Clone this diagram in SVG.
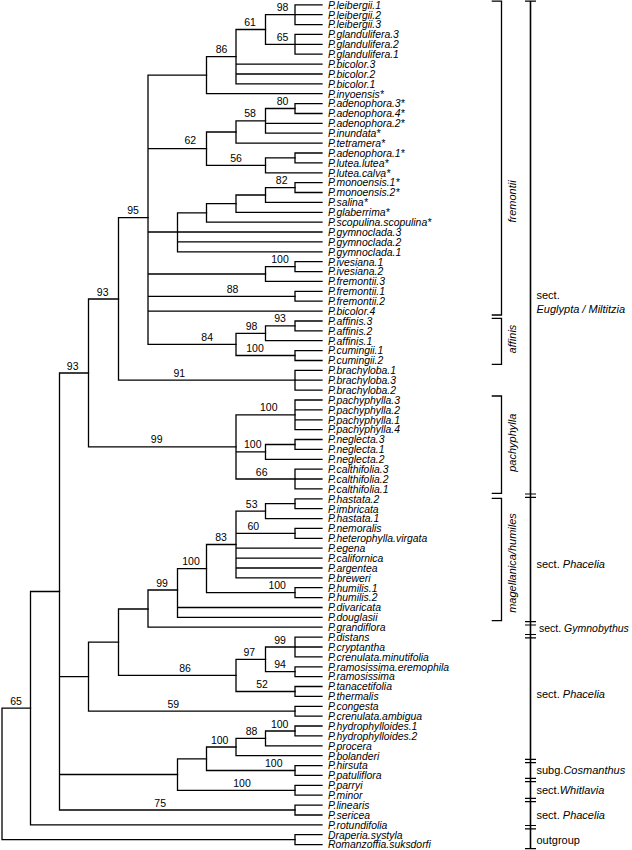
<svg xmlns="http://www.w3.org/2000/svg" width="632" height="850" viewBox="0 0 632 850">
<style>
.br{stroke:#000;stroke-width:1.3;fill:none;stroke-linecap:square}
.bk{stroke:#000;stroke-width:1.3;fill:none}
.bar{stroke:#000;stroke-width:1.6;fill:none}
.tk{stroke:#000;stroke-width:1.2;fill:none}
.lf{font-family:"Liberation Sans",Arial,sans-serif;font-size:10.4px;font-style:italic;fill:#000}
.bs{font-family:"Liberation Sans",Arial,sans-serif;font-size:10.5px;fill:#000;text-anchor:middle}
.cl{font-family:"Liberation Sans",Arial,sans-serif;font-size:11px;font-style:italic;fill:#000;text-anchor:middle}
.sc{font-family:"Liberation Sans",Arial,sans-serif;font-size:11px;fill:#000}
.it{font-style:italic}
</style>
<rect width="632" height="850" fill="#fff"/>
<g id="connectors">
<path class="br" d="M295 4.8V24.6M295 4.8H322M295 14.7H322M295 24.6H322"/>
<path class="br" d="M295 34.4V54.2M295 34.4H322M295 44.3H322M295 54.2H322"/>
<path class="br" d="M265.5 14.7V44.3M265.5 14.7H295M265.5 44.3H295"/>
<path class="br" d="M236 29.5V83.8M236 29.5H265.5M236 64.1H322M236 74H322M236 83.8H322"/>
<path class="br" d="M206.5 56.7V93.7M206.5 56.7H236M206.5 93.7H322"/>
<path class="br" d="M295 103.6V113.5M295 103.6H322M295 113.5H322"/>
<path class="br" d="M265.5 108.5V133.2M265.5 108.5H295M265.5 123.4H322M265.5 133.2H322"/>
<path class="br" d="M236 120.9V143.1M236 120.9H265.5M236 143.1H322"/>
<path class="br" d="M295 153V162.9M295 153H322M295 162.9H322"/>
<path class="br" d="M265.5 157.9V172.8M265.5 157.9H295M265.5 172.8H322"/>
<path class="br" d="M206.5 132V165.4M206.5 132H236M206.5 165.4H265.5"/>
<path class="br" d="M295 182.6V192.5M295 182.6H322M295 192.5H322"/>
<path class="br" d="M265.5 187.6V202.4M265.5 187.6H295M265.5 202.4H322"/>
<path class="br" d="M236 195V212.3M236 195H265.5M236 212.3H322"/>
<path class="br" d="M206.5 203.6V222.2M206.5 203.6H236M206.5 222.2H322"/>
<path class="br" d="M177.5 212.9V251.8M177.5 212.9H206.5M177.5 232H322M177.5 241.9H322M177.5 251.8H322"/>
<path class="br" d="M295 261.7V271.6M295 261.7H322M295 271.6H322"/>
<path class="br" d="M265.5 266.6V281.4M265.5 266.6H295M265.5 281.4H322"/>
<path class="br" d="M295 291.3V301.2M295 291.3H322M295 301.2H322"/>
<path class="br" d="M295 321V330.8M295 321H322M295 330.8H322"/>
<path class="br" d="M265.5 325.9V340.7M265.5 325.9H295M265.5 340.7H322"/>
<path class="br" d="M295 350.6V360.5M295 350.6H322M295 360.5H322"/>
<path class="br" d="M236 333.3V355.5M236 333.3H265.5M236 355.5H295"/>
<path class="br" d="M148 75.2V344.4M148 75.2H206.5M148 148.7H206.5M148 232H177.5M148 274H265.5M148 296.3H295M148 311.1H322M148 344.4H236"/>
<path class="br" d="M295 370.4V390.1M295 370.4H322M295 380.2H322M295 390.1H322"/>
<path class="br" d="M118.5 217.7V380.2M118.5 217.7H148M118.5 380.2H295"/>
<path class="br" d="M295 400V429.6M295 400H322M295 409.9H322M295 419.8H322M295 429.6H322"/>
<path class="br" d="M295 439.5V449.4M295 439.5H322M295 449.4H322"/>
<path class="br" d="M265.5 444.5V459.3M265.5 444.5H295M265.5 459.3H322"/>
<path class="br" d="M295 469.2V488.9M295 469.2H322M295 479H322M295 488.9H322"/>
<path class="br" d="M236 414.8V479M236 414.8H295M236 451.9H265.5M236 479H295"/>
<path class="br" d="M88.5 299V446.9M88.5 299H118.5M88.5 446.9H236"/>
<path class="br" d="M295 498.8V508.7M295 498.8H322M295 508.7H322"/>
<path class="br" d="M265.5 503.7V518.6M265.5 503.7H295M265.5 518.6H322"/>
<path class="br" d="M295 528.4V538.3M295 528.4H322M295 538.3H322"/>
<path class="br" d="M236 511.2V577.8M236 511.2H265.5M236 533.4H295M236 548.2H322M236 558.1H322M236 568H322M236 577.8H322"/>
<path class="br" d="M295 587.7V597.6M295 587.7H322M295 597.6H322"/>
<path class="br" d="M206.5 544.5V592.7M206.5 544.5H236M206.5 592.7H295"/>
<path class="br" d="M177.5 568.6V617.4M177.5 568.6H206.5M177.5 607.5H322M177.5 617.4H322"/>
<path class="br" d="M148 590V627.2M148 590H177.5M148 627.2H322"/>
<path class="br" d="M295 637.1V656.9M295 637.1H322M295 647H322M295 656.9H322"/>
<path class="br" d="M295 666.8V676.6M295 666.8H322M295 676.6H322"/>
<path class="br" d="M265.5 647V671.7M265.5 647H295M265.5 671.7H295"/>
<path class="br" d="M295 686.5V696.4M295 686.5H322M295 696.4H322"/>
<path class="br" d="M236 659.4V691.5M236 659.4H265.5M236 691.5H295"/>
<path class="br" d="M118.5 609V675.4M118.5 609H148M118.5 675.4H236"/>
<path class="br" d="M295 706.3V716.2M295 706.3H322M295 716.2H322"/>
<path class="br" d="M88.5 642.2V711.2M88.5 642.2H118.5M88.5 711.2H295"/>
<path class="br" d="M295 726V735.9M295 726H322M295 735.9H322"/>
<path class="br" d="M265.5 731V745.8M265.5 731H295M265.5 745.8H322"/>
<path class="br" d="M236 738.4V755.7M236 738.4H265.5M236 755.7H322"/>
<path class="br" d="M295 765.6V775.4M295 765.6H322M295 775.4H322"/>
<path class="br" d="M206.5 747V770.5M206.5 747H236M206.5 770.5H295"/>
<path class="br" d="M295 785.3V795.2M295 785.3H322M295 795.2H322"/>
<path class="br" d="M177.5 758.8V790.3M177.5 758.8H206.5M177.5 790.3H295"/>
<path class="br" d="M295 805.1V815M295 805.1H322M295 815H322"/>
<path class="br" d="M59.5 373V810M59.5 373H88.5M59.5 676.7H88.5M59.5 774.5H177.5M59.5 810H295"/>
<path class="br" d="M30.5 591.5V824.8M30.5 591.5H59.5M30.5 824.8H322"/>
<path class="br" d="M295 834.7V844.6M295 834.7H322M295 844.6H322"/>
<path class="br" d="M2 708.2V839.7M2 708.2H30.5M2 839.7H295"/>
</g>
<g id="support">
<text class="bs" x="282.5" y="11">98</text>
<text class="bs" x="282.5" y="40.8">65</text>
<text class="bs" x="250" y="26">61</text>
<text class="bs" x="221.5" y="53.2">86</text>
<text class="bs" x="282.5" y="105">80</text>
<text class="bs" x="250" y="117.4">58</text>
<text class="bs" x="190.3" y="144">62</text>
<text class="bs" x="236" y="161.9">56</text>
<text class="bs" x="281.7" y="184.1">82</text>
<text class="bs" x="133" y="214.2">95</text>
<text class="bs" x="280" y="263.1">100</text>
<text class="bs" x="232.5" y="292.8">88</text>
<text class="bs" x="102.7" y="295.5">93</text>
<text class="bs" x="280" y="322.4">93</text>
<text class="bs" x="251.5" y="329.8">98</text>
<text class="bs" x="207.2" y="340.9">84</text>
<text class="bs" x="255" y="352">100</text>
<text class="bs" x="179.3" y="376.7">91</text>
<text class="bs" x="72.7" y="369.5">93</text>
<text class="bs" x="268.8" y="411.3">100</text>
<text class="bs" x="156.7" y="443.4">99</text>
<text class="bs" x="252.8" y="448.4">100</text>
<text class="bs" x="261.7" y="475.5">66</text>
<text class="bs" x="251.7" y="507.7">53</text>
<text class="bs" x="253.3" y="529.9">60</text>
<text class="bs" x="221" y="541">83</text>
<text class="bs" x="191" y="565.1">100</text>
<text class="bs" x="277.2" y="589.2">100</text>
<text class="bs" x="162" y="586.5">99</text>
<text class="bs" x="280" y="643.5">99</text>
<text class="bs" x="249.3" y="655.9">97</text>
<text class="bs" x="280" y="668.2">94</text>
<text class="bs" x="185" y="671.9">86</text>
<text class="bs" x="262" y="688">52</text>
<text class="bs" x="173.3" y="707.7">59</text>
<text class="bs" x="279.7" y="727.5">100</text>
<text class="bs" x="251.5" y="734.9">88</text>
<text class="bs" x="219.7" y="743.5">100</text>
<text class="bs" x="273.8" y="767">100</text>
<text class="bs" x="242" y="786.8">100</text>
<text class="bs" x="160.2" y="806.5">75</text>
<text class="bs" x="16" y="704.7">65</text>
</g>
<g id="leaves">
<g id="leaf-1"><text class="lf" x="328" y="8.6">P.leibergii.1</text></g>
<g id="leaf-2"><text class="lf" x="328" y="18.5">P.leibergii.2</text></g>
<g id="leaf-3"><text class="lf" x="328" y="28.4">P.leibergii.3</text></g>
<g id="leaf-4"><text class="lf" x="328" y="38.2">P.glandulifera.3</text></g>
<g id="leaf-5"><text class="lf" x="328" y="48.1">P.glandulifera.2</text></g>
<g id="leaf-6"><text class="lf" x="328" y="58">P.glandulifera.1</text></g>
<g id="leaf-7"><text class="lf" x="328" y="67.9">P.bicolor.3</text></g>
<g id="leaf-8"><text class="lf" x="328" y="77.8">P.bicolor.2</text></g>
<g id="leaf-9"><text class="lf" x="328" y="87.6">P.bicolor.1</text></g>
<g id="leaf-10"><text class="lf" x="328" y="97.5">P.inyoensis*</text></g>
<g id="leaf-11"><text class="lf" x="328" y="107.4">P.adenophora.3*</text></g>
<g id="leaf-12"><text class="lf" x="328" y="117.3">P.adenophora.4*</text></g>
<g id="leaf-13"><text class="lf" x="328" y="127.2">P.adenophora.2*</text></g>
<g id="leaf-14"><text class="lf" x="328" y="137">P.inundata*</text></g>
<g id="leaf-15"><text class="lf" x="328" y="146.9">P.tetramera*</text></g>
<g id="leaf-16"><text class="lf" x="328" y="156.8">P.adenophora.1*</text></g>
<g id="leaf-17"><text class="lf" x="328" y="166.7">P.lutea.lutea*</text></g>
<g id="leaf-18"><text class="lf" x="328" y="176.6">P.lutea.calva*</text></g>
<g id="leaf-19"><text class="lf" x="328" y="186.4">P.monoensis.1*</text></g>
<g id="leaf-20"><text class="lf" x="328" y="196.3">P.monoensis.2*</text></g>
<g id="leaf-21"><text class="lf" x="328" y="206.2">P.salina*</text></g>
<g id="leaf-22"><text class="lf" x="328" y="216.1">P.glaberrima*</text></g>
<g id="leaf-23"><text class="lf" x="328" y="226">P.scopulina.scopulina*</text></g>
<g id="leaf-24"><text class="lf" x="328" y="235.8">P.gymnoclada.3</text></g>
<g id="leaf-25"><text class="lf" x="328" y="245.7">P.gymnoclada.2</text></g>
<g id="leaf-26"><text class="lf" x="328" y="255.6">P.gymnoclada.1</text></g>
<g id="leaf-27"><text class="lf" x="328" y="265.5">P.ivesiana.1</text></g>
<g id="leaf-28"><text class="lf" x="328" y="275.4">P.ivesiana.2</text></g>
<g id="leaf-29"><text class="lf" x="328" y="285.2">P.fremontii.3</text></g>
<g id="leaf-30"><text class="lf" x="328" y="295.1">P.fremontii.1</text></g>
<g id="leaf-31"><text class="lf" x="328" y="305">P.fremontii.2</text></g>
<g id="leaf-32"><text class="lf" x="328" y="314.9">P.bicolor.4</text></g>
<g id="leaf-33"><text class="lf" x="328" y="324.8">P.affinis.3</text></g>
<g id="leaf-34"><text class="lf" x="328" y="334.6">P.affinis.2</text></g>
<g id="leaf-35"><text class="lf" x="328" y="344.5">P.affinis.1</text></g>
<g id="leaf-36"><text class="lf" x="328" y="354.4">P.cumingii.1</text></g>
<g id="leaf-37"><text class="lf" x="328" y="364.3">P.cumingii.2</text></g>
<g id="leaf-38"><text class="lf" x="328" y="374.2">P.brachyloba.1</text></g>
<g id="leaf-39"><text class="lf" x="328" y="384">P.brachyloba.3</text></g>
<g id="leaf-40"><text class="lf" x="328" y="393.9">P.brachyloba.2</text></g>
<g id="leaf-41"><text class="lf" x="328" y="403.8">P.pachyphylla.3</text></g>
<g id="leaf-42"><text class="lf" x="328" y="413.7">P.pachyphylla.2</text></g>
<g id="leaf-43"><text class="lf" x="328" y="423.6">P.pachyphylla.1</text></g>
<g id="leaf-44"><text class="lf" x="328" y="433.4">P.pachyphylla.4</text></g>
<g id="leaf-45"><text class="lf" x="328" y="443.3">P.neglecta.3</text></g>
<g id="leaf-46"><text class="lf" x="328" y="453.2">P.neglecta.1</text></g>
<g id="leaf-47"><text class="lf" x="328" y="463.1">P.neglecta.2</text></g>
<g id="leaf-48"><text class="lf" x="328" y="473">P.calthifolia.3</text></g>
<g id="leaf-49"><text class="lf" x="328" y="482.8">P.calthifolia.2</text></g>
<g id="leaf-50"><text class="lf" x="328" y="492.7">P.calthifolia.1</text></g>
<g id="leaf-51"><text class="lf" x="328" y="502.6">P.hastata.2</text></g>
<g id="leaf-52"><text class="lf" x="328" y="512.5">P.imbricata</text></g>
<g id="leaf-53"><text class="lf" x="328" y="522.4">P.hastata.1</text></g>
<g id="leaf-54"><text class="lf" x="328" y="532.2">P.nemoralis</text></g>
<g id="leaf-55"><text class="lf" x="328" y="542.1">P.heterophylla.virgata</text></g>
<g id="leaf-56"><text class="lf" x="328" y="552">P.egena</text></g>
<g id="leaf-57"><text class="lf" x="328" y="561.9">P.californica</text></g>
<g id="leaf-58"><text class="lf" x="328" y="571.8">P.argentea</text></g>
<g id="leaf-59"><text class="lf" x="328" y="581.6">P.breweri</text></g>
<g id="leaf-60"><text class="lf" x="328" y="591.5">P.humilis.1</text></g>
<g id="leaf-61"><text class="lf" x="328" y="601.4">P.humilis.2</text></g>
<g id="leaf-62"><text class="lf" x="328" y="611.3">P.divaricata</text></g>
<g id="leaf-63"><text class="lf" x="328" y="621.2">P.douglasii</text></g>
<g id="leaf-64"><text class="lf" x="328" y="631">P.grandiflora</text></g>
<g id="leaf-65"><text class="lf" x="328" y="640.9">P.distans</text></g>
<g id="leaf-66"><text class="lf" x="328" y="650.8">P.cryptantha</text></g>
<g id="leaf-67"><text class="lf" x="328" y="660.7">P.crenulata.minutifolia</text></g>
<g id="leaf-68"><text class="lf" x="328" y="670.6">P.ramosissima.eremophila</text></g>
<g id="leaf-69"><text class="lf" x="328" y="680.4">P.ramosissima</text></g>
<g id="leaf-70"><text class="lf" x="328" y="690.3">P.tanacetifolia</text></g>
<g id="leaf-71"><text class="lf" x="328" y="700.2">P.thermalis</text></g>
<g id="leaf-72"><text class="lf" x="328" y="710.1">P.congesta</text></g>
<g id="leaf-73"><text class="lf" x="328" y="720">P.crenulata.ambigua</text></g>
<g id="leaf-74"><text class="lf" x="328" y="729.8">P.hydrophylloides.1</text></g>
<g id="leaf-75"><text class="lf" x="328" y="739.7">P.hydrophylloides.2</text></g>
<g id="leaf-76"><text class="lf" x="328" y="749.6">P.procera</text></g>
<g id="leaf-77"><text class="lf" x="328" y="759.5">P.bolanderi</text></g>
<g id="leaf-78"><text class="lf" x="328" y="769.4">P.hirsuta</text></g>
<g id="leaf-79"><text class="lf" x="328" y="779.2">P.patuliflora</text></g>
<g id="leaf-80"><text class="lf" x="328" y="789.1">P.parryi</text></g>
<g id="leaf-81"><text class="lf" x="328" y="799">P.minor</text></g>
<g id="leaf-82"><text class="lf" x="328" y="808.9">P.linearis</text></g>
<g id="leaf-83"><text class="lf" x="328" y="818.8">P.sericea</text></g>
<g id="leaf-84"><text class="lf" x="328" y="828.6">P.rotundifolia</text></g>
<g id="leaf-85"><text class="lf" x="328" y="838.5">Draperia.systyla</text></g>
<g id="leaf-86"><text class="lf" x="328" y="848.4">Romanzoffia.suksdorfi</text></g>
</g>
<g id="clade-brackets">
<g id="br-fremontii"><path class="bk" d="M491.7 1.2H501.5V315H491.7"/><text class="cl" transform="translate(515.5,201.4) rotate(-90)">fremontii</text></g>
<g id="br-affinis"><path class="bk" d="M491.7 318.3H501.5V364.3H491.7"/><text class="cl" transform="translate(515.5,339) rotate(-90)">affinis</text></g>
<g id="br-pachyphylla"><path class="bk" d="M491.7 396H501.5V493.3H491.7"/><text class="cl" transform="translate(515.5,442.7) rotate(-90)">pachyphylla</text></g>
<g id="br-magellanica"><path class="bk" d="M491.7 498.3H501.5V620.7H491.7"/><text class="cl" transform="translate(515.5,563) rotate(-90)">magellanica/humiles</text></g>
</g>
<g id="sections">
<path class="bar" d="M530.5 1V849"/>
<path class="tk" d="M525 1.2H536M525 494H536M525 497.3H536M525 621.7H536M525 625H536M525 634.5H536M525 637.8H536M525 759.3H536M525 762.7H536M525 778.3H536M525 781.7H536M525 798.3H536M525 801.7H536M525 825.5H536M525 828.8H536M525 848.6H536"/>
<g id="sec-euglypta"><text class="sc" x="536.5" y="299">sect.</text><text class="sc it" x="536.5" y="313.2">Euglypta / Miltitzia</text></g>
<g id="sec-phacelia-1"><text class="sc" x="536.5" y="568">sect. <tspan class="it">Phacelia</tspan></text></g>
<g id="sec-gymnobythus"><text class="sc" x="539" y="632" style="font-size:10.5px">sect. <tspan class="it">Gymnobythus</tspan></text></g>
<g id="sec-phacelia-2"><text class="sc" x="536.5" y="698.3">sect. <tspan class="it">Phacelia</tspan></text></g>
<g id="sec-cosmanthus"><text class="sc" x="536.5" y="774.3">subg.<tspan class="it">Cosmanthus</tspan></text></g>
<g id="sec-whitlavia"><text class="sc" x="536.5" y="794">sect.<tspan class="it">Whitlavia</tspan></text></g>
<g id="sec-phacelia-3"><text class="sc" x="536.5" y="819.3">sect. <tspan class="it">Phacelia</tspan></text></g>
<g id="sec-outgroup"><text class="sc" x="536.5" y="844">outgroup</text></g>
</g>
</svg>
